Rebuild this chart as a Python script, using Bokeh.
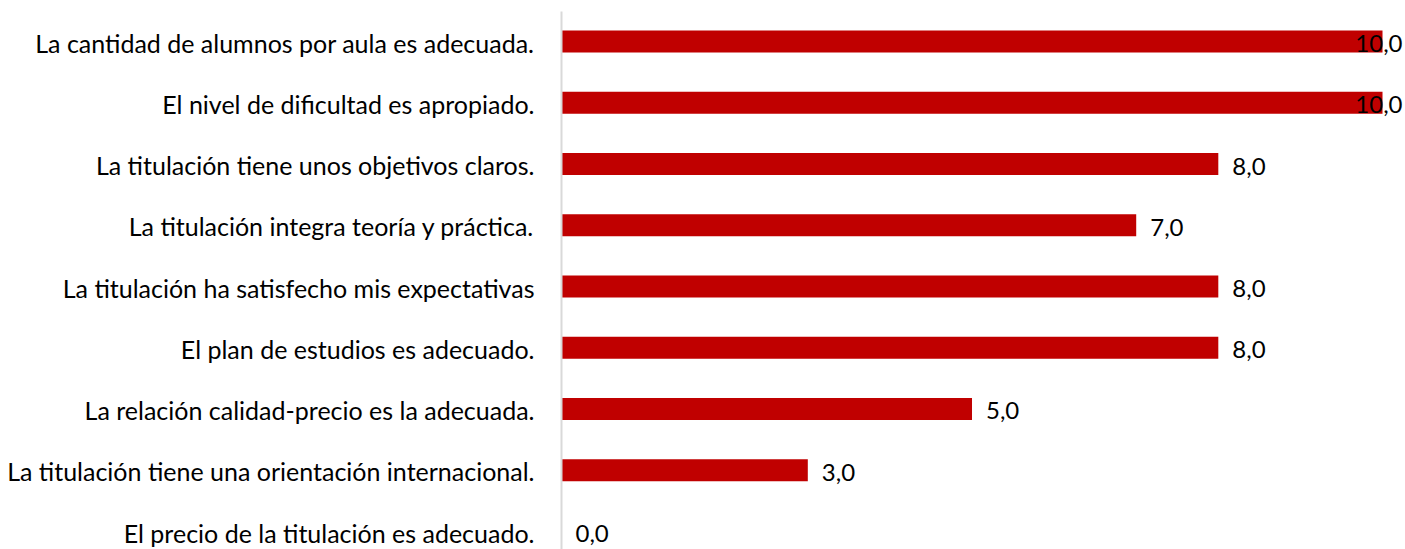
from bokeh.plotting import figure
from bokeh.models import Range1d, FixedTicker, ColumnDataSource, LinearAxis
from bokeh.core.properties import value
from bokeh.embed import file_html
from bokeh.resources import INLINE

categories = [
    "La cantidad de alumnos por aula es adecuada.",
    "El nivel de dificultad es apropiado.",
    "La titulación tiene unos objetivos claros.",
    "La titulación integra teoría y práctica.",
    "La titulación ha satisfecho mis expectativas",
    "El plan de estudios es adecuado.",
    "La relación calidad-precio es la adecuada.",
    "La titulación tiene una orientación internacional.",
    "El precio de la titulación es adecuado.",
]
values = [10.0, 10.0, 8.0, 7.0, 8.0, 8.0, 5.0, 3.0, 0.0]

FONT = "Lato"
BAR_H = 0.36
n = len(categories)
pos = list(range(n))
labels = [f"{v:.1f}".replace(".", ",") for v in values]
vmax = max(values)
XMAX = 10.28
Y0, Y1 = n - 1 + 0.294, -0.49
D = 0.02  # label axis shift

p = figure(width=1405, height=549, output_backend="svg", toolbar_location=None,
           x_range=Range1d(0, XMAX), y_range=Range1d(Y0, Y1),
           x_axis_location=None, y_axis_location=None,
           min_border_left=561, min_border_right=0, min_border_top=11, min_border_bottom=0)
p.outline_line_color = None
p.xgrid.visible = False
p.ygrid.visible = False
p.background_fill_color = "white"
p.border_fill_color = "white"

src = ColumnDataSource(dict(y=pos, v=values))
p.hbar(y="y", left=0, right="v", height=BAR_H, source=src,
       fill_color="#C00000", line_color=None)

inside = [i for i, v in enumerate(values) if v < vmax]
edge = [i for i, v in enumerate(values) if v >= vmax]
src_in = ColumnDataSource(dict(x=[values[i] for i in inside], y=[pos[i] for i in inside],
                               t=[labels[i] for i in inside]))
src_edge = ColumnDataSource(dict(x=[XMAX for i in edge], y=[pos[i] for i in edge],
                                 t=[labels[i] for i in edge]))
p.text(x="x", y="y", text="t", source=src_in, x_offset=14, y_offset=2, text_align="left",
       text_baseline="middle", text_font=value(FONT), text_font_size="24px",
       text_color="#000000")
p.text(x="x", y="y", text="t", source=src_edge, x_offset=-3, y_offset=2, text_align="right",
       text_baseline="middle", text_font=value(FONT), text_font_size="24px",
       text_color="#000000")

p.extra_y_ranges = {"lab": Range1d(Y0 - D, Y1 - D)}
ax = LinearAxis(y_range_name="lab")
ax.ticker = FixedTicker(ticks=pos)
ax.major_label_overrides = {i: c for i, c in zip(pos, categories)}
ax.major_label_text_font = FONT
ax.major_label_text_font_size = "25px"
ax.major_label_text_color = "#000000"
ax.major_label_standoff = 21
ax.major_tick_line_color = None
ax.minor_tick_line_color = None
ax.axis_line_color = "#D9D9D9"
ax.axis_line_width = 2
p.add_layout(ax, "left")

open("out.html", "w").write(file_html(p, INLINE))
